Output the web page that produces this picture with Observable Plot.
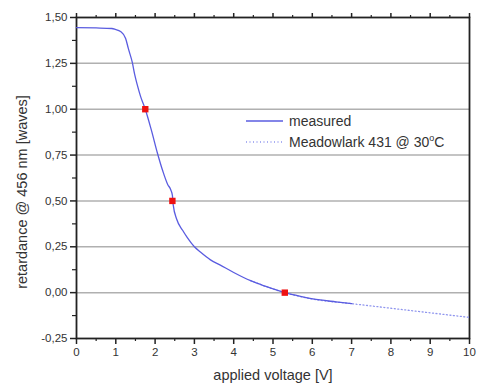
<!DOCTYPE html>
<html><head><meta charset="utf-8">
<script src="https://cdn.jsdelivr.net/npm/d3@7"></script>
<script src="https://cdn.jsdelivr.net/npm/@observablehq/plot@0.6"></script>
<style>
body{margin:0;background:#fff;font-family:"Liberation Sans",Arial,sans-serif;}
#wrap{position:relative;width:487px;height:385px;}
#legend{position:absolute;left:0;top:0;}
</style></head>
<body><div id="wrap"></div>
<script>
const measuredV = [0, 0.5, 0.9, 0.99, 1.12, 1.25, 1.32, 1.42, 1.48, 1.55, 1.63, 1.75, 1.9, 2.06, 2.2, 2.32, 2.4, 2.44, 2.46, 2.55, 2.7, 2.82, 3.0, 3.16, 3.4, 3.66, 4.0, 4.43, 4.8, 5.3, 5.7, 6.2, 6.6, 7.0];
const measuredR = [1.445, 1.443, 1.44, 1.435, 1.424, 1.386, 1.33, 1.255, 1.19, 1.13, 1.07, 1.00, 0.89, 0.76, 0.66, 0.59, 0.56, 0.53, 0.48, 0.40, 0.34, 0.30, 0.25, 0.22, 0.18, 0.15, 0.11, 0.065, 0.035, 0.0, -0.02, -0.04, -0.05, -0.06];
const meadowV = [4.43, 5.3, 6, 7, 8, 9, 10];
const meadowR = [0.065, 0.0, -0.035, -0.06, -0.085, -0.11, -0.135];
const markV = [1.75, 2.44, 5.3];
const markR = [1.00, 0.50, 0.00];
const yTicks = [-0.25, 0, 0.25, 0.5, 0.75, 1.0, 1.25, 1.5];
const yGrid = [0, 0.25, 0.5, 0.75, 1.0, 1.25];
const yMinor = [-0.125, 0.125, 0.375, 0.625, 0.875, 1.125, 1.375];
const xTicks = [0,1,2,3,4,5,6,7,8,9,10];
const xMinor = [0.5,1.5,2.5,3.5,4.5,5.5,6.5,7.5,8.5,9.5];
const legendLabels = ["measured", "Meadowlark 431 @ 30"];

const measured = measuredV.map((v,i)=>({v, r: measuredR[i]}));
const meadow = meadowV.map((v,i)=>({v, r: meadowR[i]}));
const marks = markV.map((v,i)=>({v, r: markR[i]}));
const fmt = d => d3.format(".2f")(d).replace("−", "-").replace(".", ",");

const chart = Plot.plot({
  width: 487, height: 385,
  marginLeft: 76, marginRight: 18, marginTop: 17, marginBottom: 47,
  style: {fontFamily: '"Liberation Sans", Arial, sans-serif', fontSize: "11.5px", color: "#333", background: "#fff"},
  x: {domain: [0, 10]},
  y: {domain: [-0.25, 1.5]},
  marks: [
    Plot.gridY(yGrid, {stroke: "#b0b0b0", strokeOpacity: 1, strokeWidth: 1.5}),
    Plot.axisY(yTicks, {tickSize: 6, tickPadding: 3, tickFormat: fmt, stroke: "#222", strokeWidth: 1.5, fontSize: 11.5,
      label: null}),
    Plot.axisY(yMinor, {tickSize: 4, text: null, label: null, stroke: "#222", strokeWidth: 1.2}),
    Plot.axisX(xTicks, {tickSize: 6, tickPadding: 3, stroke: "#222", strokeWidth: 1.5, fontSize: 11.5,
      label: null}),
    Plot.axisX(xMinor, {tickSize: 3, text: null, label: null, stroke: "#222", strokeWidth: 1.2}),
    Plot.axisX(xTicks, {anchor: "top", tickSize: 5, text: null, label: null, stroke: "#222", strokeWidth: 1.5}),
    Plot.axisX(xMinor, {anchor: "top", tickSize: 3, text: null, label: null, stroke: "#222", strokeWidth: 1.2}),
    Plot.text(["retardance @ 456 nm [waves]"], {frameAnchor: "left", dx: -54, dy: 14, rotate: -90, fontSize: 14.5, fill: "#333", textAnchor: "middle"}),
    Plot.text(["applied voltage [V]"], {frameAnchor: "bottom", dy: 37, fontSize: 14.5, fill: "#333", textAnchor: "middle", lineAnchor: "middle"}),
    Plot.frame({stroke: "#222", strokeWidth: 1.8}),
    Plot.line(meadow, {x: "v", y: "r", stroke: "#8f95ee", strokeWidth: 1.3, strokeDasharray: "1,2.5", curve: "monotone-x"}),
    Plot.line(measured, {x: "v", y: "r", stroke: "#5a5ce0", strokeWidth: 1.3, curve: "monotone-x"}),
    Plot.dot(marks, {x: "v", y: "r", symbol: "square", fill: "#ee1111", stroke: "none", r: 3.6})
  ]
});
const wrap = document.getElementById("wrap");
wrap.appendChild(chart);

const ns = "http://www.w3.org/2000/svg";
const lg = document.createElementNS(ns, "svg");
lg.setAttribute("id","legend"); lg.setAttribute("width", 487); lg.setAttribute("height", 385);
lg.innerHTML = `
<line x1="246" x2="283" y1="121" y2="121" stroke="#5a5ce0" stroke-width="1.3"/>
<line x1="246" x2="283" y1="142" y2="142" stroke="#8f95ee" stroke-width="1.3" stroke-dasharray="1,2.5"/>
<text x="289" y="126" font-size="14" fill="#333" font-family="Liberation Sans, Arial, sans-serif">${legendLabels[0]}</text>
<text x="289" y="147" font-size="14" fill="#333" font-family="Liberation Sans, Arial, sans-serif">${legendLabels[1]}<tspan dy="-6" font-size="9">o</tspan><tspan dy="6">C</tspan></text>`;
wrap.appendChild(lg);
</script></body></html>
